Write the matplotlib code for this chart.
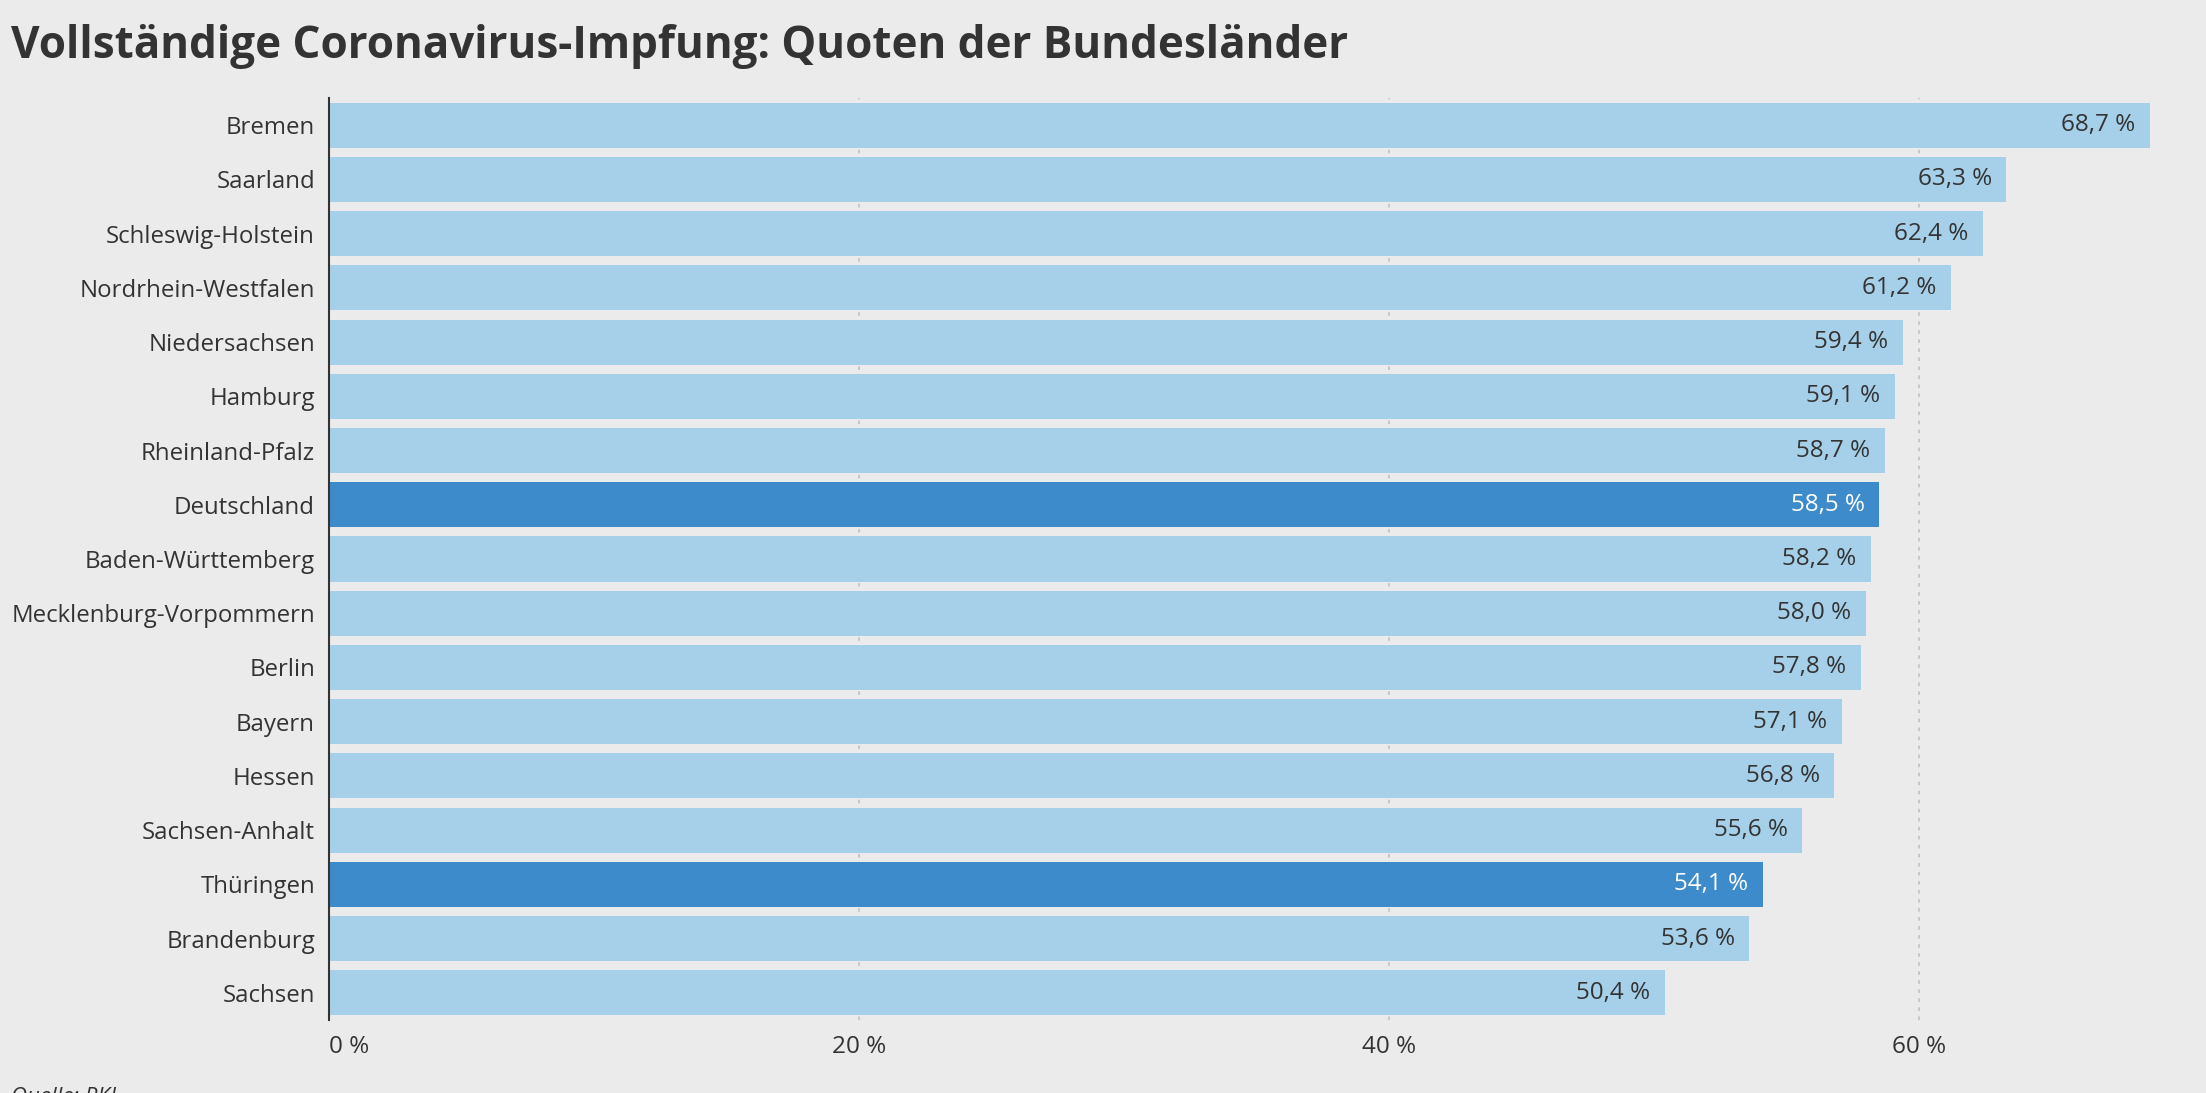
import matplotlib
matplotlib.use('Agg')
import matplotlib.pyplot as plt

laender = ['Bremen', 'Saarland', 'Schleswig-Holstein', 'Nordrhein-Westfalen',
           'Niedersachsen', 'Hamburg', 'Rheinland-Pfalz', 'Deutschland',
           'Baden-Württemberg', 'Mecklenburg-Vorpommern', 'Berlin', 'Bayern',
           'Hessen', 'Sachsen-Anhalt', 'Thüringen', 'Brandenburg', 'Sachsen']
quoten = [68.7, 63.3, 62.4, 61.2, 59.4, 59.1, 58.7, 58.5, 58.2, 58.0, 57.8,
          57.1, 56.8, 55.6, 54.1, 53.6, 50.4]
hervorgehoben = ['Deutschland', 'Thüringen']
xticks = [0, 20, 40, 60]

BG = '#ebebeb'
HELL = '#a6d0e9'
DUNKEL = '#3d8bcb'
TEXT = '#333333'

plt.rcParams['font.family'] = ['Open Sans', 'DejaVu Sans']

fig = plt.figure(figsize=(22.06, 10.93), dpi=100, facecolor=BG)
ax = fig.add_axes([329/2206, 1-1020/1093, (2184-329)/2206, (1020-98)/1093])
ax.set_facecolor(BG)

farben = [DUNKEL if l in hervorgehoben else HELL for l in laender]
ypos = list(range(len(laender)))
ax.barh(ypos, quoten, height=0.83, color=farben, zorder=2)

for y, v, l in zip(ypos, quoten, laender):
    c = 'white' if l in hervorgehoben else TEXT
    ax.text(v - 0.55, y, ('%.1f %%' % v).replace('.', ','), ha='right', va='center',
            fontsize=17.5, color=c, zorder=3)

ax.set_xlim(0, 70)
ax.set_ylim(len(laender) - 0.5, -0.5)
ax.set_yticks(ypos)
ax.set_yticklabels(laender, fontsize=17.3, color=TEXT)
ax.set_xticks(xticks)
ax.set_xticklabels(['%d %%' % t for t in xticks], fontsize=17.5, color=TEXT)
ax.get_xticklabels()[0].set_horizontalalignment('left')
ax.tick_params(axis='y', length=0, pad=10)
ax.tick_params(axis='x', length=0, pad=11)

for t in xticks[1:]:
    ax.axvline(t, color='#c4c4c4', linestyle=(0, (2, 3)), linewidth=1.3, zorder=1)

for s in ['top', 'right', 'bottom']:
    ax.spines[s].set_visible(False)
ax.spines['left'].set_color(TEXT)
ax.spines['left'].set_linewidth(1.5)
ax.spines['left'].set_zorder(4)

fig.text(11/2206, 1-58/1093, 'Vollständige Coronavirus-Impfung: Quoten der Bundesländer',
         fontsize=31.7, fontweight='bold', color=TEXT, va='baseline', ha='left')
fig.text(11/2206, 1-1087/1093, 'Quelle: RKI', fontsize=16, style='italic',
         color=TEXT, va='top', ha='left')

fig.savefig('out.png', dpi=100, facecolor=BG)
